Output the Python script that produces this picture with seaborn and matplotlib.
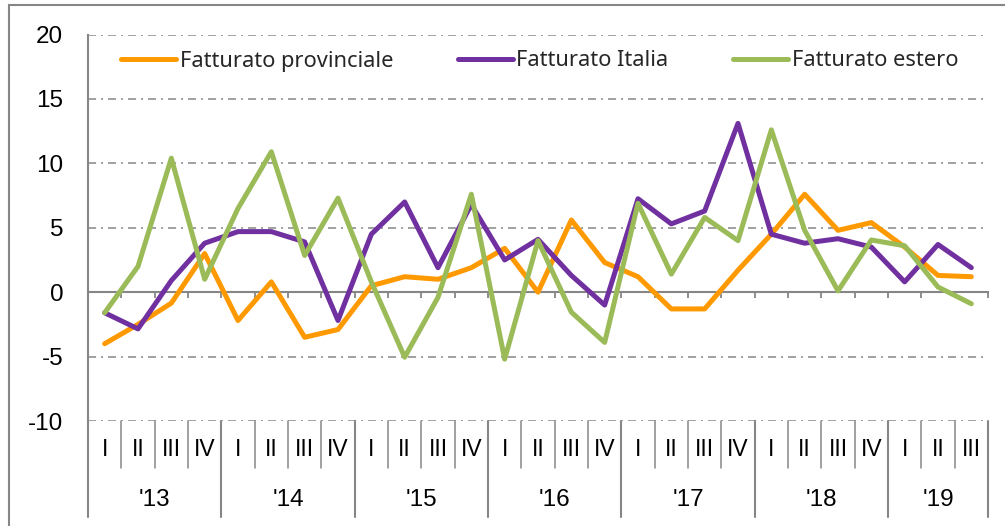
import numpy as np
import pandas as pd
import matplotlib
matplotlib.use("Agg")
import matplotlib.pyplot as plt
import matplotlib.transforms as mtransforms
from matplotlib.patches import Rectangle
import seaborn as sns

# ---------------- data ----------------
quarters = ["I", "II", "III", "IV"] * 6 + ["I", "II", "III"]
years = ["'13", "'14", "'15", "'16", "'17", "'18", "'19"]
quarters_per_year = [4, 4, 4, 4, 4, 4, 3]

series_names = ["Fatturato provinciale", "Fatturato Italia", "Fatturato estero"]
provinciale = [-4.0, -2.5, -0.85, 3.0, -2.2, 0.8, -3.5, -2.9, 0.5,
               1.2, 1.0, 1.9, 3.4, 0.0, 5.6, 2.3, 1.2, -1.3,
               -1.3, 1.7, 4.5, 7.6, 4.8, 5.4, 3.5, 1.3, 1.2]
italia = [-1.6, -2.85, 0.9, 3.8, 4.7, 4.7, 3.9, -2.2, 4.5,
          7.0, 1.9, 6.8, 2.5, 4.1, 1.3, -1.0, 7.25, 5.3,
          6.3, 13.1, 4.5, 3.8, 4.15, 3.5, 0.8, 3.7, 1.9]
estero = [-1.6, 2.0, 10.4, 1.0, 6.5, 10.9, 2.85, 7.3, 0.8,
          -5.05, -0.4, 7.6, -5.2, 4.0, -1.55, -3.9, 6.9, 1.4,
          5.8, 4.0, 12.6, 4.8, 0.1, 4.05, 3.6, 0.4, -0.9]
y_ticks = [-10, -5, 0, 5, 10, 15, 20]
colors = ["#FF9900", "#7030A0", "#9BBB59"]

# ---------------- build frame ----------------
n = len(quarters)
idx = np.arange(n)
df = pd.concat([
    pd.DataFrame({"pos": idx, "value": vals, "serie": name})
    for name, vals in zip(series_names, [provinciale, italia, estero])
])

sns.set_theme(style="white")
plt.rcParams["lines.scale_dashes"] = False

W, H = 1005, 526
fig = plt.figure(figsize=(W / 100, H / 100), dpi=100)
ax_left, ax_right, ax_top, ax_bot = 88, 988, 34.5, 421
ax = fig.add_axes([ax_left / W, 1 - ax_bot / H, (ax_right - ax_left) / W, (ax_bot - ax_top) / H])

grey = "#868686"

# gridlines (dash-dot)
for yv in y_ticks:
    if yv != 0:
        ax.axhline(yv, color=grey, lw=1.1, linestyle=(0, (5.8, 3.6, 1.4, 3.6)), zorder=1)

sns.lineplot(data=df, x="pos", y="value", hue="serie", palette=colors,
             hue_order=series_names, linewidth=3.6, ax=ax, legend=True, sort=True,
             zorder=3)
for ln in ax.get_lines():
    ln.set_solid_joinstyle("round")
    ln.set_solid_capstyle("round")

ax.set_xlim(-0.5, n - 0.5)
ax.set_ylim(-10, 20)
ax.set_xlabel("")
ax.set_ylabel("")

# y axis
ax.set_yticks(y_ticks)
ax.set_yticklabels([str(t) for t in y_ticks], fontsize=17.5, family=["Liberation Sans", "DejaVu Sans"])
ax.tick_params(axis="y", direction="out", length=5.8, width=1.4, color=grey, pad=12, labelcolor="black")

# x axis at zero
boundaries = np.arange(n + 1) - 0.5
ax.spines["bottom"].set_position(("data", 0))
ax.spines["bottom"].set_color(grey)
ax.spines["bottom"].set_linewidth(1.5)
ax.spines["bottom"].set_zorder(2)
ax.set_xticks(boundaries[1:])
ax.set_xticklabels([])
ax.tick_params(axis="x", direction="out", length=4.3, width=1.3, color=grey, bottom=True)

ax.spines["left"].set_color(grey)
ax.spines["left"].set_linewidth(1.5)
ax.spines["left"].set_bounds(-10, 20)
ax.spines["top"].set_visible(False)
ax.spines["right"].set_visible(False)
ax.grid(False)

# category separators and labels below the plot
trans = mtransforms.blended_transform_factory(ax.transData, ax.transAxes)
q_bottom = -(468 - ax_bot) / (ax_bot - ax_top)
y_bottom = -(517 - ax_bot) / (ax_bot - ax_top)
year_starts = np.concatenate([[0], np.cumsum(quarters_per_year)])
year_bounds = set((year_starts - 0.5).tolist())
for b in boundaries:
    if b in year_bounds:
        ax.plot([b, b], [0, y_bottom], transform=trans, color=grey, lw=1.5, clip_on=False)
    else:
        ax.plot([b, b], [0, q_bottom], transform=trans, color=grey, lw=1.1, clip_on=False)

q_label_y = -(450 - ax_bot) / (ax_bot - ax_top)
y_label_y = -(500 - ax_bot) / (ax_bot - ax_top)
narrow = ["Liberation Sans Narrow", "Liberation Sans", "DejaVu Sans"]
for i, q in enumerate(quarters):
    ax.text(i, q_label_y, q, transform=trans, ha="center", va="center",
            fontsize=16.5, family=narrow, color="black")
for k, yr in enumerate(years):
    c = (year_starts[k] + year_starts[k + 1] - 1) / 2
    ax.text(c, y_label_y, yr, transform=trans, ha="center", va="center",
            fontsize=17.5, family=narrow, color="black")

# legend
handles, labels = ax.get_legend_handles_labels()
fs = 15.7
px = fs * 100 / 72
leg = ax.legend(handles, labels, ncol=3, frameon=False,
                loc="center left", bbox_to_anchor=(121 / W, 1 - 61 / H),
                bbox_transform=fig.transFigure, borderaxespad=0, borderpad=0,
                handlelength=55 / px, handletextpad=4 / px, columnspacing=64 / px,
                prop={"family": ["Noto Sans", "DejaVu Sans"], "size": fs})
for lh in leg.get_lines():
    lh.set_linewidth(3.6)
    lh.set_solid_capstyle("round")

# chart-area border
fig.add_artist(Rectangle((9 / W, -0.2), 1.2, 1.2 - 5 / H, transform=fig.transFigure,
                         fill=False, edgecolor=grey, lw=1.5))

fig.savefig("out.png", dpi=100)
